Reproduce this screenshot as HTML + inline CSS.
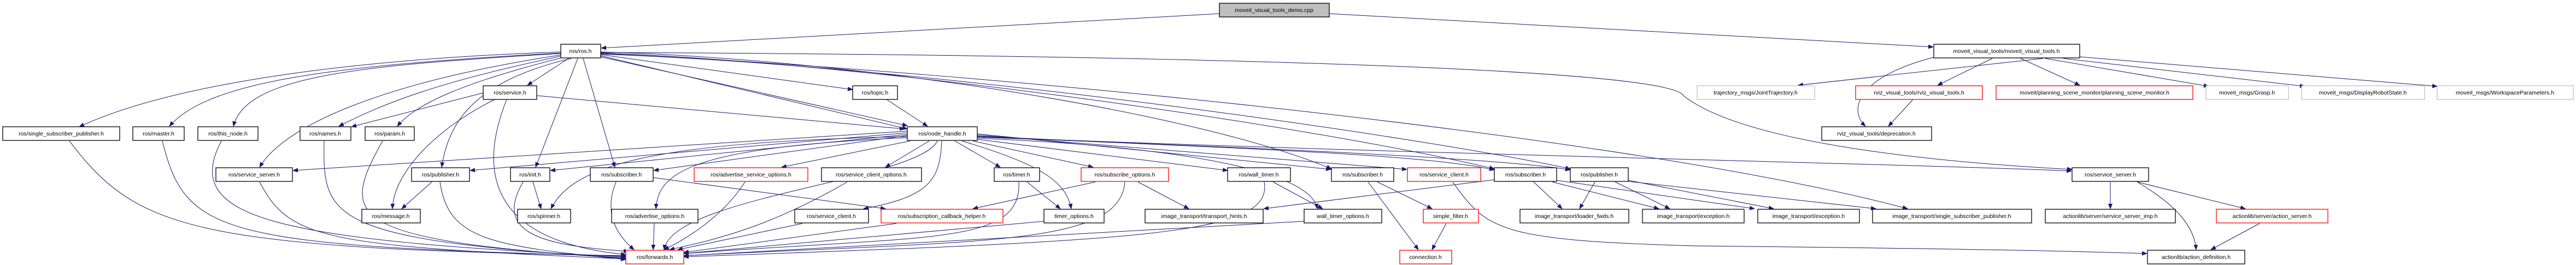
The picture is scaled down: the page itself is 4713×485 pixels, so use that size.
<!DOCTYPE html>
<html><head><meta charset="utf-8"><style>
html,body{margin:0;padding:0;background:#fff}
svg{display:block}
text{font-family:"Liberation Sans",sans-serif;font-size:10.5px;fill:#000;text-anchor:middle}
.n rect{fill:#fff;stroke:#000;stroke-width:1.3}
.r rect{fill:#fff;stroke:#ff0000;stroke-width:1.3}
.g rect{fill:#fff;stroke:#bfbfbf;stroke-width:1.3}
.d rect{fill:#bfbfbf;stroke:#000;stroke-width:1.3}
path{fill:none;stroke:#191970;stroke-width:1}
</style></head><body>
<svg width="4713" height="485" viewBox="0 0 4713 485" xmlns="http://www.w3.org/2000/svg">
<defs><marker id="a" markerWidth="10" markerHeight="8" refX="9" refY="4" orient="auto" markerUnits="userSpaceOnUse"><polygon points="0,0 10,4 0,8" fill="#191970"/></marker></defs>
<g marker-end="url(#a)">
<path d="M2231 25 L1100 88"/>
<path d="M2432 25 L3537 86"/>
<path d="M1026 95 C600 110 300 160 145 232"/>
<path d="M1026 97 C600 120 380 150 310 231"/>
<path d="M1026 98 C650 120 450 140 427 231"/>
<path d="M1030 100 C700 150 520 230 475 306"/>
<path d="M1030 102 C800 150 700 190 620 231"/>
<path d="M1035 104 C850 150 760 190 727 231"/>
<path d="M1045 107 C860 150 820 230 808 306"/>
<path d="M1040 107 L965 156"/>
<path d="M1057 107 L980 306"/>
<path d="M1067 107 L1125 306"/>
<path d="M1099 100 L1560 164"/>
<path d="M1099 102 L1660 236"/>
<path d="M1099 104 L1660 230"/>
<path d="M1099 95 C1600 110 2200 210 2436 309"/>
<path d="M1099 97 C1600 115 2400 230 2734 309"/>
<path d="M1099 99 C1700 120 2600 250 2873 309"/>
<path d="M1099 98 C1800 130 3000 250 3490 382"/>
<path d="M1099 96 C2000 100 3050 120 3080 175 C3200 270 3600 300 3791 310"/>
<path d="M884 170 L643 232"/>
<path d="M905 182 C790 240 720 320 718 382"/>
<path d="M927 182 C880 300 880 440 1145 466"/>
<path d="M982 175 L1655 236"/>
<path d="M1622 182 L1697 231"/>
<path d="M127 258 C250 420 350 455 1145 468"/>
<path d="M297 258 C340 430 400 450 1145 469"/>
<path d="M405 258 C330 400 500 440 1145 470"/>
<path d="M593 258 C590 400 600 440 1145 472"/>
<path d="M700 258 C620 400 630 440 1145 473"/>
<path d="M1660 240 L536 312"/>
<path d="M1660 243 L860 312"/>
<path d="M1660 246 L1007 312"/>
<path d="M1660 248 L1196 312"/>
<path d="M1660 250 C1200 260 1050 300 1008 382"/>
<path d="M1665 258 L1430 306"/>
<path d="M1700 258 L1620 306"/>
<path d="M1723 258 C1720 330 1700 360 1580 382"/>
<path d="M1715 258 C1680 330 1230 360 1215 457"/>
<path d="M1660 252 C1250 270 1205 320 1200 382"/>
<path d="M1747 258 L1830 306"/>
<path d="M1760 258 C1900 300 1950 330 1960 382"/>
<path d="M1780 258 L2000 306"/>
<path d="M1788 255 L2246 312"/>
<path d="M1788 245 L2435 310"/>
<path d="M1788 247 L2574 310"/>
<path d="M1788 249 C2200 270 2600 280 2734 311"/>
<path d="M1788 251 C2300 270 2750 290 2873 311"/>
<path d="M1788 253 C2200 270 2400 320 2410 382"/>
<path d="M1788 250 C2500 280 3500 300 3790 313"/>
<path d="M475 333 C530 440 600 450 1145 474"/>
<path d="M790 333 L735 382"/>
<path d="M805 333 C820 440 900 450 1145 475"/>
<path d="M975 333 L990 382"/>
<path d="M957 333 C900 430 1000 450 1150 460"/>
<path d="M1127 333 C1100 400 1140 440 1160 457"/>
<path d="M1195 325 L1620 382"/>
<path d="M1363 333 C1320 400 1250 440 1215 457"/>
<path d="M1550 333 C1400 420 1300 440 1225 457"/>
<path d="M1864 333 C1870 450 1700 430 1240 465"/>
<path d="M1879 333 L1940 382"/>
<path d="M2004 333 L1780 382"/>
<path d="M2082 333 L2175 382"/>
<path d="M2058 333 C2050 450 1800 440 1251 468"/>
<path d="M2313 333 C2330 430 2100 440 1251 470"/>
<path d="M2329 333 L2420 382"/>
<path d="M2520 333 L2620 382"/>
<path d="M2503 333 L2595 457"/>
<path d="M2658 333 C2720 420 2740 440 3100 450 C3600 455 3800 460 3928 464"/>
<path d="M2734 329 L2312 382"/>
<path d="M2806 333 L2858 382"/>
<path d="M2840 333 L3035 382"/>
<path d="M2848 330 L3210 382"/>
<path d="M2918 333 L2890 382"/>
<path d="M2955 333 L3055 382"/>
<path d="M2979 330 L3245 382"/>
<path d="M2979 332 L3432 382"/>
<path d="M1468 409 L1240 457"/>
<path d="M1640 409 L1251 462"/>
<path d="M1910 405 L1251 464"/>
<path d="M1197 409 L1195 457"/>
<path d="M2386 405 L1251 468"/>
<path d="M2646 409 L2620 457"/>
<path d="M4134 409 L4045 457"/>
<path d="M3738 107 L3290 156"/>
<path d="M3645 107 L3545 156"/>
<path d="M3538 105 C3400 140 3380 200 3413 231"/>
<path d="M3500 182 L3455 231"/>
<path d="M3697 107 L3805 156"/>
<path d="M3742 107 L4041 158"/>
<path d="M3775 107 L4217 158"/>
<path d="M3805 104 L4459 158"/>
<path d="M3861 333 L3861 382"/>
<path d="M3910 333 L4108 382"/>
<path d="M3910 333 C3990 380 4015 420 4018 457"/>
</g>
<g class="d"><rect x="2231" y="6" width="201" height="25"/><text x="2331" y="22">moveit_visual_tools_demo.cpp</text></g>
<g class="n"><rect x="1026" y="81" width="73" height="25"/><text x="1062" y="97">ros/ros.h</text></g>
<g class="n"><rect x="3538" y="81" width="267" height="25"/><text x="3671" y="97">moveit_visual_tools/moveit_visual_tools.h</text></g>
<g class="n"><rect x="884" y="157" width="98" height="25"/><text x="933" y="173">ros/service.h</text></g>
<g class="n"><rect x="1560" y="157" width="82" height="25"/><text x="1601" y="173">ros/topic.h</text></g>
<g class="g"><rect x="3105" y="157" width="215" height="25"/><text x="3212" y="173">trajectory_msgs/JointTrajectory.h</text></g>
<g class="r"><rect x="3395" y="157" width="232" height="25"/><text x="3511" y="173">rviz_visual_tools/rviz_visual_tools.h</text></g>
<g class="r"><rect x="3652" y="157" width="360" height="25"/><text x="3832" y="173">moveit/planning_scene_monitor/planning_scene_monitor.h</text></g>
<g class="g"><rect x="4036" y="157" width="151" height="25"/><text x="4111" y="173">moveit_msgs/Grasp.h</text></g>
<g class="g"><rect x="4211" y="157" width="225" height="25"/><text x="4323" y="173">moveit_msgs/DisplayRobotState.h</text></g>
<g class="g"><rect x="4459" y="157" width="249" height="25"/><text x="4583" y="173">moveit_msgs/WorkspaceParameters.h</text></g>
<g class="n"><rect x="5" y="232" width="214" height="25"/><text x="112" y="248">ros/single_subscriber_publisher.h</text></g>
<g class="n"><rect x="243" y="232" width="94" height="25"/><text x="290" y="248">ros/master.h</text></g>
<g class="n"><rect x="362" y="232" width="110" height="25"/><text x="417" y="248">ros/this_node.h</text></g>
<g class="n"><rect x="549" y="232" width="93" height="25"/><text x="595" y="248">ros/names.h</text></g>
<g class="n"><rect x="668" y="232" width="90" height="25"/><text x="713" y="248">ros/param.h</text></g>
<g class="n"><rect x="1660" y="232" width="128" height="25"/><text x="1724" y="248">ros/node_handle.h</text></g>
<g class="n"><rect x="3333" y="232" width="201" height="25"/><text x="3433" y="248">rviz_visual_tools/deprecation.h</text></g>
<g class="n"><rect x="395" y="307" width="140" height="25"/><text x="465" y="323">ros/service_server.h</text></g>
<g class="n"><rect x="753" y="307" width="106" height="25"/><text x="806" y="323">ros/publisher.h</text></g>
<g class="n"><rect x="934" y="307" width="72" height="25"/><text x="970" y="323">ros/init.h</text></g>
<g class="n"><rect x="1080" y="307" width="115" height="25"/><text x="1137" y="323">ros/subscriber.h</text></g>
<g class="r"><rect x="1270" y="307" width="208" height="25"/><text x="1374" y="323">ros/advertise_service_options.h</text></g>
<g class="n"><rect x="1503" y="307" width="183" height="25"/><text x="1594" y="323">ros/service_client_options.h</text></g>
<g class="n"><rect x="1819" y="307" width="83" height="25"/><text x="1860" y="323">ros/timer.h</text></g>
<g class="r"><rect x="1978" y="307" width="160" height="25"/><text x="2058" y="323">ros/subscribe_options.h</text></g>
<g class="n"><rect x="2246" y="307" width="115" height="25"/><text x="2303" y="323">ros/wall_timer.h</text></g>
<g class="n"><rect x="2436" y="307" width="114" height="25"/><text x="2493" y="323">ros/subscriber.h</text></g>
<g class="r"><rect x="2575" y="307" width="134" height="25"/><text x="2642" y="323">ros/service_client.h</text></g>
<g class="n"><rect x="2734" y="307" width="114" height="25"/><text x="2791" y="323">ros/subscriber.h</text></g>
<g class="n"><rect x="2873" y="307" width="106" height="25"/><text x="2926" y="323">ros/publisher.h</text></g>
<g class="n"><rect x="3791" y="307" width="140" height="25"/><text x="3861" y="323">ros/service_server.h</text></g>
<g class="n"><rect x="662" y="383" width="107" height="25"/><text x="715" y="399">ros/message.h</text></g>
<g class="n"><rect x="947" y="383" width="97" height="25"/><text x="995" y="399">ros/spinner.h</text></g>
<g class="n"><rect x="1119" y="383" width="158" height="25"/><text x="1198" y="399">ros/advertise_options.h</text></g>
<g class="n"><rect x="1454" y="383" width="135" height="25"/><text x="1521" y="399">ros/service_client.h</text></g>
<g class="r"><rect x="1612" y="383" width="223" height="25"/><text x="1723" y="399">ros/subscription_callback_helper.h</text></g>
<g class="n"><rect x="1910" y="383" width="110" height="25"/><text x="1965" y="399">timer_options.h</text></g>
<g class="n"><rect x="2095" y="383" width="216" height="25"/><text x="2203" y="399">image_transport/transport_hints.h</text></g>
<g class="n"><rect x="2386" y="383" width="142" height="25"/><text x="2457" y="399">wall_timer_options.h</text></g>
<g class="r"><rect x="2604" y="383" width="101" height="25"/><text x="2654" y="399">simple_filter.h</text></g>
<g class="n"><rect x="2781" y="383" width="199" height="25"/><text x="2880" y="399">image_transport/loader_fwds.h</text></g>
<g class="n"><rect x="3005" y="383" width="186" height="25"/><text x="3098" y="399">image_transport/exception.h</text></g>
<g class="n"><rect x="3216" y="383" width="186" height="25"/><text x="3309" y="399">image_transport/exception.h</text></g>
<g class="n"><rect x="3426" y="383" width="291" height="25"/><text x="3571" y="399">image_transport/single_subscriber_publisher.h</text></g>
<g class="n"><rect x="3742" y="383" width="238" height="25"/><text x="3861" y="399">actionlib/server/service_server_imp.h</text></g>
<g class="r"><rect x="4055" y="383" width="204" height="25"/><text x="4157" y="399">actionlib/server/action_server.h</text></g>
<g class="r"><rect x="1145" y="458" width="106" height="25"/><text x="1198" y="474">ros/forwards.h</text></g>
<g class="r"><rect x="2561" y="458" width="95" height="25"/><text x="2608" y="474">connection.h</text></g>
<g class="n"><rect x="3929" y="458" width="178" height="25"/><text x="4018" y="474">actionlib/action_definition.h</text></g>
</svg>
</body></html>
